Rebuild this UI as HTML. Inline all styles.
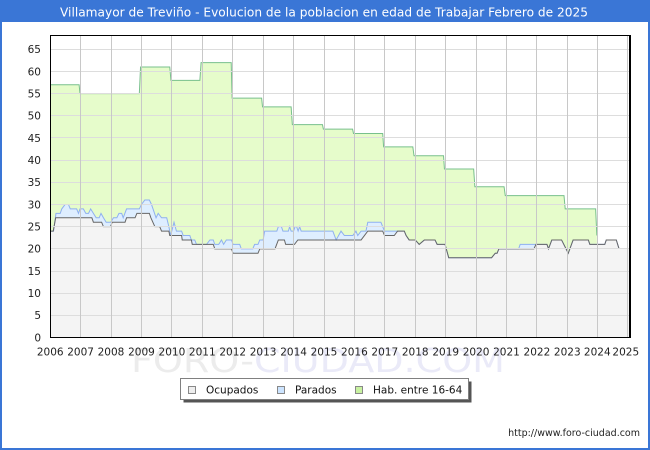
<!DOCTYPE html>
<html>
<head>
<meta charset="utf-8">
<style>
html,body{margin:0;padding:0;background:#fff;}
svg{display:block;}
text{font-family:"DejaVu Sans","Liberation Sans",sans-serif;}
</style>
</head>
<body>
<svg width="650" height="450" viewBox="0 0 650 450" xmlns="http://www.w3.org/2000/svg">
  <!-- outer frame -->
  <rect x="0" y="0" width="650" height="450" fill="#ffffff"/>
  <rect x="1" y="1" width="648" height="448" fill="none" stroke="#3a76d6" stroke-width="2"/>
  <rect x="0" y="0" width="650" height="22" fill="#3a76d6"/>
  <text x="60" y="16.5" font-size="12" fill="#ffffff" textLength="528" lengthAdjust="spacingAndGlyphs">Villamayor de Treviño - Evolucion de la poblacion en edad de Trabajar Febrero de 2025</text>

  <!-- watermark -->
  <text x="131" y="372" font-size="33" textLength="374" lengthAdjust="spacingAndGlyphs"><tspan fill="#ececec">FORO-</tspan><tspan fill="#eaeaf8">CIUDAD.COM</tspan></text>

  <defs>
    <clipPath id="pc"><rect x="50" y="35" width="580" height="303"/></clipPath>
  </defs>

  <!-- plot background -->
  <rect x="50.5" y="35.5" width="579" height="302" fill="#ffffff"/>

  <g clip-path="url(#pc)">
    <g transform="matrix(30.42 0 0 -4.434 50.2 337.5)">
      <!-- Hab fill -->
      <polygon fill="#e6fccb" points="0,0 0,57 0.95,57 0.98,55 2.93,55 2.97,61 3.93,61 3.97,58 4.92,58 4.96,62 5.95,62 5.98,54 6.95,54 6.98,52 7.92,52 7.96,48 8.95,48 8.98,47 9.94,47 9.97,46 10.93,46 10.96,43 11.92,43 11.96,41 12.93,41 12.96,38 13.92,38 13.96,34 14.92,34 14.96,32 16.89,32 16.93,29 17.93,29 17.97,23 17.97,0"/>
      <!-- Parados + Ocupados fill -->
      <polygon fill="#deeeff" points="0,0 0,24 0.11,24 0.19,28 0.33,28 0.38,29 0.49,30 0.6,30 0.66,29 0.87,29 0.93,28 0.98,29 1.09,29 1.17,28 1.26,28 1.33,29 1.42,28 1.51,27 1.61,27 1.67,28 1.75,27 1.84,26 1.99,26 2.08,27 2.19,27 2.26,28 2.35,28 2.4,27 2.51,29 2.93,29 3.0,30 3.11,31 3.26,31 3.33,30 3.48,27 3.55,28 3.66,27 3.83,27 3.9,25 3.96,23 4.07,26 4.15,24 4.32,24 4.37,23 4.59,23 4.64,22 4.75,22 4.81,21 5.14,21 5.25,22 5.36,22 5.41,21 5.54,21 5.63,22 5.7,21 5.79,22 5.96,22 6.01,21 6.23,21 6.28,20 6.66,20 6.72,21 6.83,21 6.89,22 7.0,22 7.05,24 7.45,24 7.5,25 7.6,25 7.65,24 7.83,24 7.87,25 7.92,24 8.0,24 8.05,25 8.1,25 8.15,24 8.2,25 8.25,24 9.29,24 9.4,22 9.56,24 9.67,23 9.95,23 10.05,24 10.11,23 10.22,24 10.38,24 10.44,26 10.87,26 10.99,24 11.31,24 11.42,24 11.64,24 11.7,23 11.8,22 12.0,22 12.13,21 12.3,22 12.65,22 12.72,21 12.98,21 13.1,18 14.51,18 14.63,19 14.69,19 14.75,20 15.4,20 15.45,21 15.97,21 16.33,21 16.38,20 16.49,22 16.81,22 17.03,19 17.19,22 17.69,22 17.74,21 18.23,21 18.28,22 18.61,22 18.7,20 19.05,20 19.05,0"/>
      <!-- Ocupados fill -->
      <polygon fill="#f4f4f4" points="0,0 0,24 0.1,24 0.18,27 1.37,27 1.42,26 1.69,26 1.75,25 1.98,25 2.04,26 2.46,26 2.51,27 2.79,27 2.85,28 3.26,28 3.31,27 3.44,25 3.6,25 3.66,24 3.9,24 3.93,23 4.32,23 4.34,22 4.64,22 4.67,21 5.36,21 5.41,20 5.96,20 6.01,19 6.83,19 6.89,20 7.39,20 7.5,22 7.7,22 7.74,21 8.03,21 8.14,22 10.22,22 10.33,23 10.44,24 10.93,24 10.99,23 11.31,23 11.42,24 11.64,24 11.7,23 11.8,22 12.0,22 12.13,21 12.3,22 12.65,22 12.72,21 12.98,21 13.1,18 14.51,18 14.63,19 14.69,19 14.75,20 15.9,20 15.97,21 16.33,21 16.38,20 16.49,22 16.81,22 17.03,19 17.19,22 17.69,22 17.74,21 18.23,21 18.28,22 18.61,22 18.7,20 19.05,20 19.05,0"/>

      <!-- lines -->
      <polyline fill="none" stroke="#78c08c" stroke-width="1" vector-effect="non-scaling-stroke" points="0,57 0.95,57 0.98,55 2.93,55 2.97,61 3.93,61 3.97,58 4.92,58 4.96,62 5.95,62 5.98,54 6.95,54 6.98,52 7.92,52 7.96,48 8.95,48 8.98,47 9.94,47 9.97,46 10.93,46 10.96,43 11.92,43 11.96,41 12.93,41 12.96,38 13.92,38 13.96,34 14.92,34 14.96,32 16.89,32 16.93,29 17.93,29 17.97,23"/>
      <polyline fill="none" stroke="#8fb0f0" stroke-width="1" vector-effect="non-scaling-stroke" points="0,24 0.11,24 0.19,28 0.33,28 0.38,29 0.49,30 0.6,30 0.66,29 0.87,29 0.93,28 0.98,29 1.09,29 1.17,28 1.26,28 1.33,29 1.42,28 1.51,27 1.61,27 1.67,28 1.75,27 1.84,26 1.99,26 2.08,27 2.19,27 2.26,28 2.35,28 2.4,27 2.51,29 2.93,29 3.0,30 3.11,31 3.26,31 3.33,30 3.48,27 3.55,28 3.66,27 3.83,27 3.9,25 3.96,23 4.07,26 4.15,24 4.32,24 4.37,23 4.59,23 4.64,22 4.75,22 4.81,21 5.14,21 5.25,22 5.36,22 5.41,21 5.54,21 5.63,22 5.7,21 5.79,22 5.96,22 6.01,21 6.23,21 6.28,20 6.66,20 6.72,21 6.83,21 6.89,22 7.0,22 7.05,24 7.45,24 7.5,25 7.6,25 7.65,24 7.83,24 7.87,25 7.92,24 8.0,24 8.05,25 8.1,25 8.15,24 8.2,25 8.25,24 9.29,24 9.4,22 9.56,24 9.67,23 9.95,23 10.05,24 10.11,23 10.22,24 10.38,24 10.44,26 10.87,26 10.99,24 11.31,24 11.42,24 11.64,24 11.7,23 11.8,22 12.0,22 12.13,21 12.3,22 12.65,22 12.72,21 12.98,21 13.1,18 14.51,18 14.63,19 14.69,19 14.75,20 15.4,20 15.45,21 15.97,21 16.33,21 16.38,20 16.49,22 16.81,22 17.03,19 17.19,22 17.69,22 17.74,21 18.23,21 18.28,22 18.61,22 18.7,20"/>
      <polyline fill="none" stroke="#666666" stroke-width="1" vector-effect="non-scaling-stroke" points="0,24 0.1,24 0.18,27 1.37,27 1.42,26 1.69,26 1.75,25 1.98,25 2.04,26 2.46,26 2.51,27 2.79,27 2.85,28 3.26,28 3.31,27 3.44,25 3.6,25 3.66,24 3.9,24 3.93,23 4.32,23 4.34,22 4.64,22 4.67,21 5.36,21 5.41,20 5.96,20 6.01,19 6.83,19 6.89,20 7.39,20 7.5,22 7.7,22 7.74,21 8.03,21 8.14,22 10.22,22 10.33,23 10.44,24 10.93,24 10.99,23 11.31,23 11.42,24 11.64,24 11.7,23 11.8,22 12.0,22 12.13,21 12.3,22 12.65,22 12.72,21 12.98,21 13.1,18 14.51,18 14.63,19 14.69,19 14.75,20 15.9,20 15.97,21 16.33,21 16.38,20 16.49,22 16.81,22 17.03,19 17.19,22 17.69,22 17.74,21 18.23,21 18.28,22 18.61,22 18.7,20"/>
    </g>

    <!-- horizontal gridlines -->
    <g stroke="#dddddd" stroke-width="1" shape-rendering="crispEdges">
      <line x1="50" y1="315.5" x2="630" y2="315.5"/>
      <line x1="50" y1="293.5" x2="630" y2="293.5"/>
      <line x1="50" y1="271.5" x2="630" y2="271.5"/>
      <line x1="50" y1="248.5" x2="630" y2="248.5"/>
      <line x1="50" y1="226.5" x2="630" y2="226.5"/>
      <line x1="50" y1="204.5" x2="630" y2="204.5"/>
      <line x1="50" y1="182.5" x2="630" y2="182.5"/>
      <line x1="50" y1="160.5" x2="630" y2="160.5"/>
      <line x1="50" y1="137.5" x2="630" y2="137.5"/>
      <line x1="50" y1="115.5" x2="630" y2="115.5"/>
      <line x1="50" y1="93.5" x2="630" y2="93.5"/>
      <line x1="50" y1="71.5" x2="630" y2="71.5"/>
      <line x1="50" y1="49.5" x2="630" y2="49.5"/>
    </g>
    <!-- vertical gridlines -->
    <g stroke="#c8c8c8" stroke-width="1" shape-rendering="crispEdges">
      <line x1="80.5" y1="35" x2="80.5" y2="338"/>
      <line x1="111.5" y1="35" x2="111.5" y2="338"/>
      <line x1="141.5" y1="35" x2="141.5" y2="338"/>
      <line x1="171.5" y1="35" x2="171.5" y2="338"/>
      <line x1="202.5" y1="35" x2="202.5" y2="338"/>
      <line x1="232.5" y1="35" x2="232.5" y2="338"/>
      <line x1="263.5" y1="35" x2="263.5" y2="338"/>
      <line x1="293.5" y1="35" x2="293.5" y2="338"/>
      <line x1="324.5" y1="35" x2="324.5" y2="338"/>
      <line x1="354.5" y1="35" x2="354.5" y2="338"/>
      <line x1="384.5" y1="35" x2="384.5" y2="338"/>
      <line x1="415.5" y1="35" x2="415.5" y2="338"/>
      <line x1="445.5" y1="35" x2="445.5" y2="338"/>
      <line x1="476.5" y1="35" x2="476.5" y2="338"/>
      <line x1="506.5" y1="35" x2="506.5" y2="338"/>
      <line x1="536.5" y1="35" x2="536.5" y2="338"/>
      <line x1="567.5" y1="35" x2="567.5" y2="338"/>
      <line x1="597.5" y1="35" x2="597.5" y2="338"/>
      <line x1="627.5" y1="35" x2="627.5" y2="338"/>
    </g>
  </g>

  <!-- plot border -->
  <rect x="50.5" y="35.5" width="579" height="302" fill="none" stroke="#000000" stroke-width="1" shape-rendering="crispEdges"/>
  <line x1="630.5" y1="35" x2="630.5" y2="338" stroke="#000" stroke-width="1" shape-rendering="crispEdges"/>

  <!-- y labels -->
  <g font-size="10.5" fill="#222222" text-anchor="end">
    <text x="41" y="341.3">0</text>
    <text x="41" y="319.1">5</text>
    <text x="41" y="297">10</text>
    <text x="41" y="274.8">15</text>
    <text x="41" y="252.6">20</text>
    <text x="41" y="230.5">25</text>
    <text x="41" y="208.3">30</text>
    <text x="41" y="186.1">35</text>
    <text x="41" y="164">40</text>
    <text x="41" y="141.8">45</text>
    <text x="41" y="119.6">50</text>
    <text x="41" y="97.4">55</text>
    <text x="41" y="75.3">60</text>
    <text x="41" y="53.1">65</text>
  </g>

  <!-- x labels -->
  <g font-size="10.5" fill="#222222" text-anchor="middle">
    <text x="50.2" y="355.5">2006</text>
    <text x="80.6" y="355.5">2007</text>
    <text x="111" y="355.5">2008</text>
    <text x="141.5" y="355.5">2009</text>
    <text x="171.9" y="355.5">2010</text>
    <text x="202.3" y="355.5">2011</text>
    <text x="232.7" y="355.5">2012</text>
    <text x="263.1" y="355.5">2013</text>
    <text x="293.6" y="355.5">2014</text>
    <text x="324" y="355.5">2015</text>
    <text x="354.4" y="355.5">2016</text>
    <text x="384.8" y="355.5">2017</text>
    <text x="415.2" y="355.5">2018</text>
    <text x="445.7" y="355.5">2019</text>
    <text x="476.1" y="355.5">2020</text>
    <text x="506.5" y="355.5">2021</text>
    <text x="536.9" y="355.5">2022</text>
    <text x="567.3" y="355.5">2023</text>
    <text x="597.3" y="355.5">2024</text>
    <text x="625.8" y="355.5">2025</text>
  </g>

  <!-- legend -->
  <rect x="183.5" y="381.5" width="288" height="21" fill="#555555"/>
  <rect x="180.5" y="378.5" width="288" height="21" fill="#ffffff" stroke="#808080" stroke-width="1"/>
  <rect x="188.5" y="386.5" width="7" height="7" fill="#eeeeee" stroke="#888888" stroke-width="1"/>
  <rect x="277.5" y="386.5" width="7" height="7" fill="#cce4ff" stroke="#888888" stroke-width="1"/>
  <rect x="355.5" y="386.5" width="7" height="7" fill="#c8f2a0" stroke="#888888" stroke-width="1"/>
  <g font-size="10.5" fill="#111111">
    <text x="206" y="393.5">Ocupados</text>
    <text x="295" y="393.5">Parados</text>
    <text x="373" y="393.5">Hab. entre 16-64</text>
  </g>

  <!-- url -->
  <text x="640" y="436" font-size="9.5" fill="#222222" text-anchor="end">http://www.foro-ciudad.com</text>
</svg>
</body>
</html>
